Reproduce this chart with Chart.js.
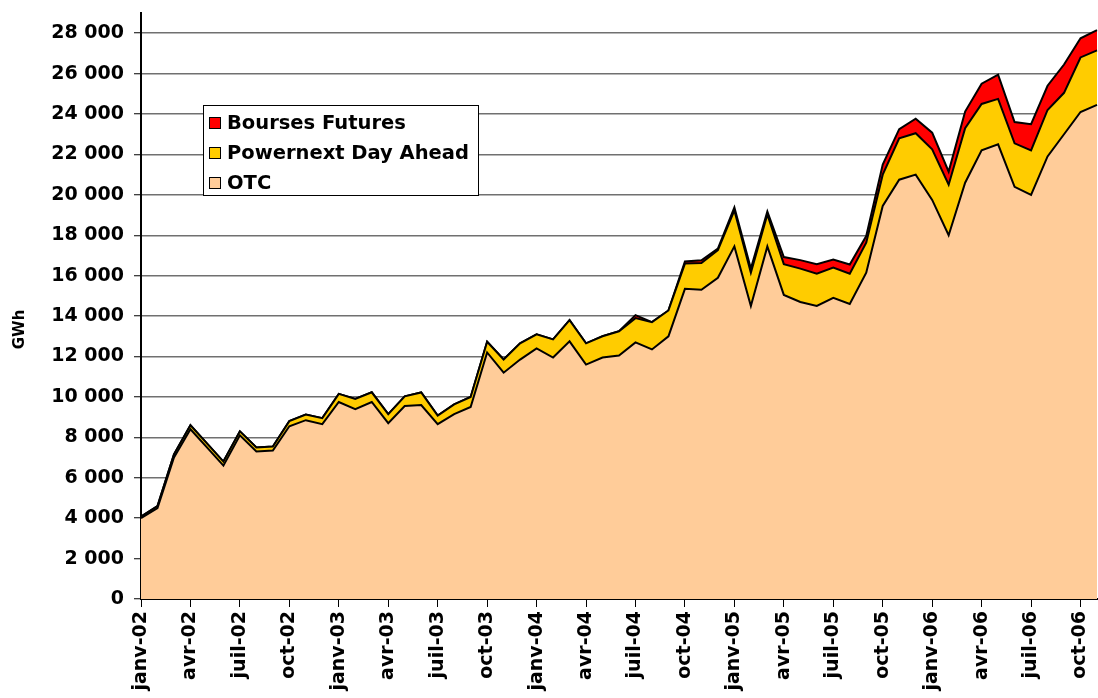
<!DOCTYPE html>
<html>
<head>
<meta charset="utf-8">
<script src="https://cdn.jsdelivr.net/npm/chart.js@4/dist/chart.umd.min.js"></script>
<style>
  html, body { margin: 0; padding: 0; background: #fff; }
  #wrap { width: 1098px; height: 698px; position: relative; }
</style>
</head>
<body>
<div id="wrap"><canvas id="volumes"></canvas></div>
<script>
  // mois (une étiquette affichée sur trois)
  var months = ['janv', 'févr', 'mars', 'avr', 'mai', 'juin', 'juil', 'août', 'sept', 'oct', 'nov', 'déc'];
  var years = ['02', '03', '04', '05', '06'];
  var labels = [];
  years.forEach(function (yr) {
    months.forEach(function (m) { labels.push(m + '-' + yr); });
  });
  labels = labels.slice(0, 59); // janv-02 .. nov-06

  var yTicks = [0, 2000, 4000, 6000, 8000, 10000, 12000, 14000, 16000, 18000, 20000, 22000, 24000, 26000, 28000];

  // GWh
  var otc = [
    4000, 4500, 7000, 8400, 7500, 6600, 8100, 7300, 7350, 8550, 8850, 8650,
    9750, 9400, 9750, 8700, 9550, 9600, 8650, 9150, 9500, 12200, 11200, 11850,
    12400, 11950, 12750, 11600, 11950, 12050, 12700, 12350, 13000, 15350, 15300, 15900,
    17450, 14500, 17450, 15050, 14700, 14500, 14900, 14600, 16150, 19450, 20750, 21000,
    19750, 18000, 20600, 22200, 22500, 20400, 20000, 21900, 23000, 24100, 24450
  ];
  var powernext = [
    80, 100, 150, 200, 200, 200, 200, 200, 200, 250, 280, 300,
    400, 500, 480, 450, 480, 620, 430, 480, 500, 530, 650, 800,
    700, 900, 1050, 1050, 1050, 1200, 1200, 1350, 1280, 1250, 1330, 1370,
    1780, 1650, 1580, 1520, 1650, 1600, 1500, 1500, 1480, 1550, 2050, 2050,
    2500, 2500, 2700, 2300, 2250, 2150, 2200, 2300, 2050, 2700, 2700
  ];
  var futures = [
    0, 0, 0, 0, 0, 0, 0, 0, 0, 0, 0, 0,
    0, 0, 0, 0, 0, 0, 0, 0, 0, 0, 0, 0,
    0, 0, 0, 0, 0, 0, 150, 0, 0, 100, 130, 70,
    150, 200, 150, 350, 420, 470, 400, 450, 330, 500, 450, 720,
    830, 650, 820, 1000, 1200, 1050, 1300, 1200, 1400, 950, 1000
  ];

  var font = 'DejaVu Sans';

  function fmt(v) {
    return String(v).replace(/\B(?=(\d{3})+(?!\d))/g, ' ');
  }

  // légende encadrée + titre de l'axe
  var boxLegend = {
    id: 'boxLegend',
    afterDraw: function (chart) {
      var ctx = chart.ctx;
      var area = chart.chartArea;
      var items = chart.data.datasets.slice().reverse();
      var x = 203, y = 105, w = 275, h = 90;
      ctx.save();
      ctx.fillStyle = '#fff';
      ctx.fillRect(x, y, w, h);
      ctx.strokeStyle = '#000';
      ctx.lineWidth = 1;
      ctx.strokeRect(x + 0.5, y + 0.5, w, h);
      ctx.font = 'bold 19.5px "' + font + '"';
      ctx.textBaseline = 'middle';
      items.forEach(function (ds, i) {
        var cy = y + 18 + i * 30;
        ctx.fillStyle = ds.backgroundColor;
        ctx.fillRect(x + 6, cy - 6, 12, 12);
        ctx.strokeRect(x + 6.5, cy - 5.5, 11, 11);
        ctx.fillStyle = '#000';
        ctx.fillText(ds.label, x + 24, cy + 1);
      });

      ctx.translate(20, area.top + area.height * 0.54);
      ctx.rotate(-Math.PI / 2);
      ctx.textAlign = 'center';
      ctx.font = 'bold 15px "' + font + '"';
      ctx.fillText('GWh', 0, 0);
      ctx.restore();
    }
  };

  var ctx = document.getElementById('volumes').getContext('2d');
  new Chart(ctx, {
    type: 'line',
    data: {
      labels: labels,
      datasets: [
        { label: 'OTC', data: otc, backgroundColor: '#FFCC99', fill: 'origin' },
        { label: 'Powernext Day Ahead', data: powernext, backgroundColor: '#FFCC00', fill: '-1' },
        { label: 'Bourses Futures', data: futures, backgroundColor: '#FF0000', fill: '-1' }
      ]
    },
    options: {
      responsive: true,
      maintainAspectRatio: false,
      animation: false,
      layout: { padding: { top: 13, right: 1, left: 0, bottom: 0 } },
      elements: {
        line: { borderColor: '#000', borderWidth: 2, tension: 0 },
        point: { radius: 0 }
      },
      plugins: {
        legend: { display: false },
        tooltip: { enabled: false }
      },
      scales: {
        x: {
          offset: false,
          grid: { drawOnChartArea: false, drawTicks: true, tickLength: 8, color: '#000', lineWidth: 1 },
          border: { color: '#000', width: 2 },
          ticks: {
            autoSkip: false,
            minRotation: 90,
            maxRotation: 90,
            padding: 4,
            color: '#000',
            font: { family: font, size: 19, weight: 'bold' },
            callback: function (v, i) { return i % 3 === 0 ? this.getLabelForValue(v) : null; }
          },
          afterFit: function (scale) {
            scale.height = 99;
            scale.paddingLeft = 0;
            scale.paddingRight = 0;
          }
        },
        y: {
          stacked: true,
          min: 0,
          max: 29000,
          grid: { color: '#707070', lineWidth: 1.5, tickLength: 7, tickColor: '#000', tickWidth: 1 },
          border: { color: '#000', width: 2 },
          ticks: {
            padding: 10,
            color: '#000',
            font: { family: font, size: 19, weight: 'bold' },
            callback: function (v) { return fmt(v); }
          },
          afterBuildTicks: function (scale) {
            scale.ticks = yTicks.map(function (v) { return { value: v }; });
          },
          afterFit: function (scale) {
            scale.width = 141;
            scale.paddingTop = 0;
            scale.paddingBottom = 0;
          }
        }
      }
    },
    plugins: [boxLegend]
  });
</script>
</body>
</html>
